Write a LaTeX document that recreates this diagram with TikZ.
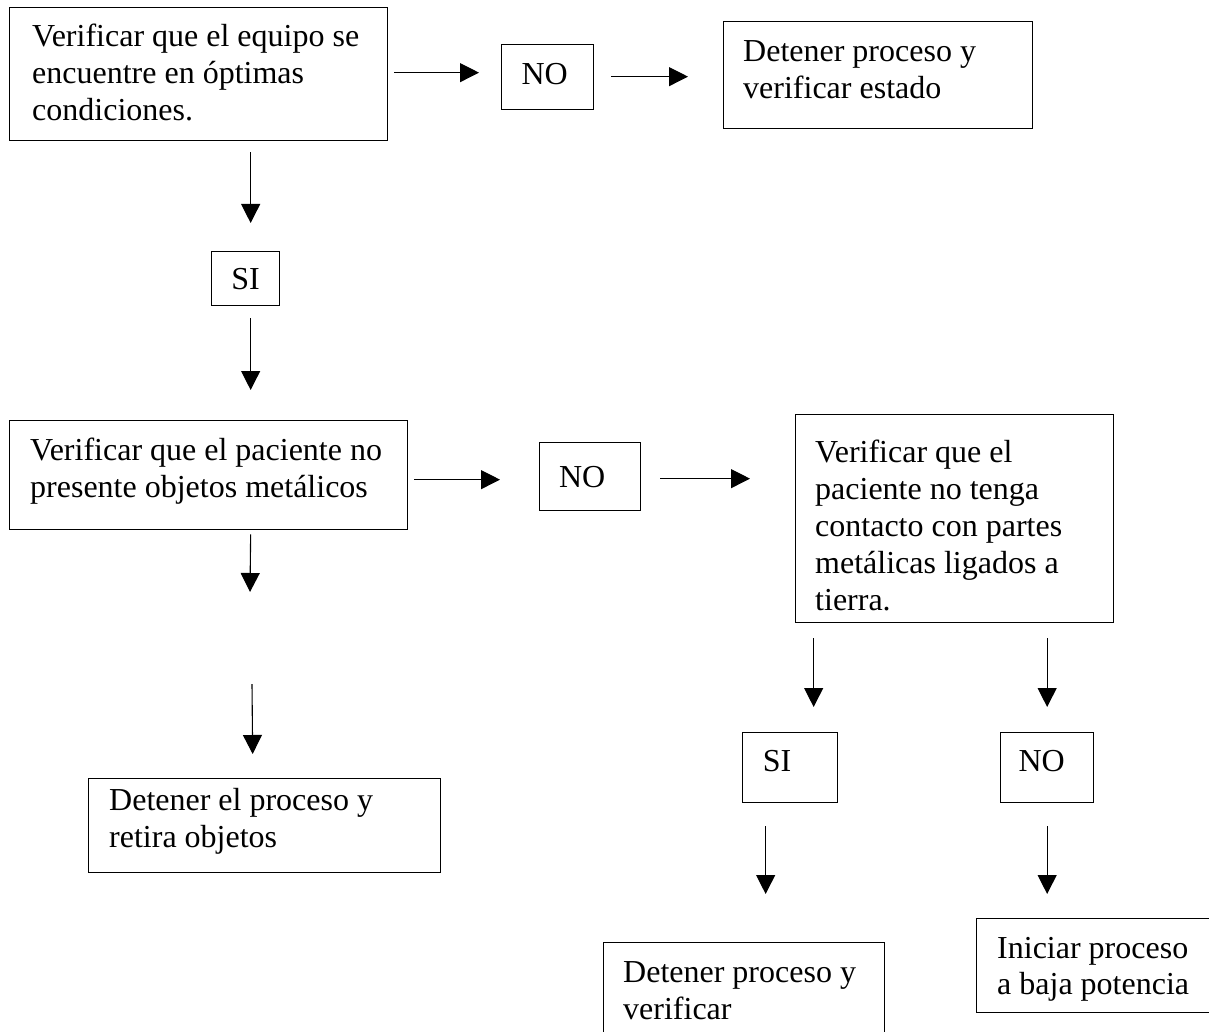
\documentclass[tikz,border=0pt]{standalone}
\usepackage{fontspec}
\setmainfont{Liberation Serif}
\usetikzlibrary{arrows.meta,calc}
\begin{document}
\begin{tikzpicture}[x=1pt,y=-1pt,
  box/.style={draw, line width=1.3pt, inner sep=0pt, anchor=north west},
  txt/.style={inner sep=0pt, anchor=base west, font=\fontsize{32}{37}\selectfont},
  lbl/.style={box, font=\fontsize{32}{37}\selectfont},
  arr/.style={line width=1.1pt, -{Triangle[length=19pt,width=19pt]}}]
\useasboundingbox (0,0) rectangle (1209,1032);
\clip (0,0) rectangle (1209,1032);

% boxes
\node[box, minimum width=378pt, minimum height=133pt] (b1) at (9,7) {};
\node[lbl, minimum width=92pt, minimum height=65pt, text depth=7pt] (n1) at (501,44) {\hspace*{-6pt}NO};
\node[box, minimum width=309pt, minimum height=107pt] (b2) at (723,21) {};
\node[lbl, minimum width=68pt, minimum height=54pt] (s1) at (211,251) {SI};
\node[box, minimum width=398pt, minimum height=109pt] (b3) at (9,420) {};
\node[lbl, minimum width=101pt, minimum height=68pt] (n2) at (539,442) {\hspace*{-16pt}NO};
\node[box, minimum width=318pt, minimum height=208pt] (b5) at (795,414) {};
\node[box, minimum width=352pt, minimum height=94pt] (b4) at (88,778) {};
\node[lbl, minimum width=95pt, minimum height=70pt, text depth=14pt] (s2) at (742,732) {\hspace*{-26pt}SI};
\node[lbl, minimum width=93pt, minimum height=70pt, text depth=14pt] (n3) at (1000,732) {\hspace*{-11pt}NO};
\node[box, minimum width=281pt, minimum height=130pt] (b6) at (603,942) {};
\node[box, minimum width=270pt, minimum height=94pt] (b7) at (976,918) {};

% texts
\node[txt] (t1) at (32,47) {\vtop{\hbox{Verificar que el equipo se}\hbox{encuentre en óptimas}\hbox{condiciones.}}};
\node[txt] (t2) at (743,62) {\vtop{\hbox{Detener proceso y}\hbox{verificar estado}}};
\node[txt] (t3) at (30,460) {\vtop{\hbox{Verificar que el paciente no}\hbox{presente objetos metálicos}}};
\node[txt] (t5) at (815,462) {\vtop{\hbox{Verificar que el}\hbox{paciente no tenga}\hbox{contacto con partes}\hbox{metálicas ligados a}\hbox{tierra.}}};
\node[txt] (t4) at (109,810) {\vtop{\hbox{Detener el proceso y}\hbox{retira objetos}}};
\node[txt] (t6) at (623,982) {\vtop{\hbox{Detener proceso y}\hbox{verificar}}};
\node[txt, font=\fontsize{32}{36}\selectfont] (t7) at (997,958) {\vtop{\hbox{Iniciar proceso}\hbox{a baja potencia}}};

% free ends
\coordinate (g1) at (250,592);
\coordinate (g2) at (252,684);

% arrows
\draw[arr] ($(b1.east)+(6,-1.5)$) -- ($(b1.east -| n1.west)+(-22,-1.5)$);
\draw[arr] ($(n1.east)+(17,-0.5)$) -- ($(n1.east -| b2.west)+(-35,-0.5)$);
\draw[arr] ($(s1.north |- b1.south)+(5,11)$) -- ($(s1.north)+(5,-28)$);
\draw[arr] ($(s1.south)+(5,12)$) -- ($(s1.south |- b3.north)+(5,-30)$);
\draw[arr] ($(b3.east)+(6,4.5)$) -- ($(b3.east -| n2.west)+(-39,4.5)$);
\draw[arr] ($(n2.east)+(19,2)$) -- ($(n2.east -| b5.west)+(-45,2)$);
\draw[arr] ($(b3.south)+(42,4)$) -- (g1);
\draw[arr] (g2) -- ($(b4.north)+(-12,-24)$);
\draw[arr] ($(s2.north |- b5.south)+(23.5,15)$) -- ($(s2.north)+(23.5,-25)$);
\draw[arr] ($(n3.north |- b5.south)+(0,15)$) -- ($(n3.north)+(0,-25)$);
\draw[arr] ($(s2.south)+(-24.5,23)$) -- ($(s2.south |- b6.north)+(-24.5,-48)$);
\draw[arr] ($(n3.south)+(0,23)$) -- ($(n3.south |- b7.north)+(0,-24)$);
\end{tikzpicture}
\end{document}
